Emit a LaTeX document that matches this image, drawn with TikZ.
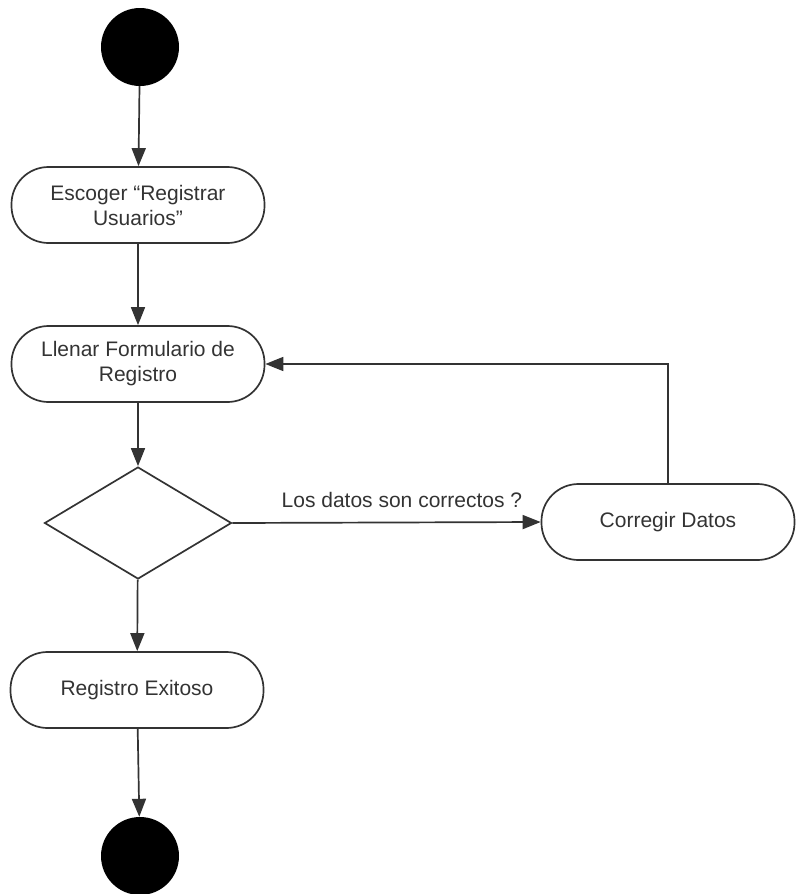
\documentclass[tikz,border=0pt]{standalone}
\usepackage{fontspec}
\setmainfont{Liberation Sans}
\usetikzlibrary{arrows.meta,shapes.geometric}
\definecolor{ln}{HTML}{333333}
\begin{document}
\begin{tikzpicture}[x=1pt,y=-1pt,
  act/.style={draw=ln, line width=1.7pt, rounded corners=37pt, minimum width=253pt, minimum height=76pt, inner sep=0pt, align=center, font=\fontsize{21}{25}\selectfont, text=ln},
  dot/.style={circle, fill=black, minimum size=78pt, inner sep=0pt},
  dec/.style={diamond, draw=ln, line width=1.7pt, minimum width=187pt, minimum height=112pt, inner sep=0pt},
  flow/.style={draw=ln, line width=1.7pt, -{Triangle[length=18pt,width=14pt]}},
  lbl/.style={font=\fontsize{21}{25}\selectfont, text=ln, inner sep=0pt}]
\useasboundingbox (0,0) rectangle (808,894);
\node[dot] (start) at (140,47) {};
\node[act] (a1) at (138,205) {Escoger “Registrar\\Usuarios”};
\node[act] (a2) at (138,364) {Llenar Formulario de\\Registro};
\node[dec] (d) at (138,523) {};
\node[act] (c) at (668,522) {Corregir Datos};
\node[act] (a3) at (137,690) {Registro Exitoso};
\node[dot] (end) at (140,856) {};
\draw[flow] (start) -- (a1);
\draw[flow] (a1) -- (a2);
\draw[flow] (a2) -- (d);
\draw[flow] (d.east) -- node[lbl, pos=0.55, above=14pt] {Los datos son correctos ?} (c.west);
\draw[flow] (c.north) |- (a2.east);
\draw[flow] (d) -- (a3);
\draw[flow] (a3) -- (end);
\end{tikzpicture}
\end{document}
